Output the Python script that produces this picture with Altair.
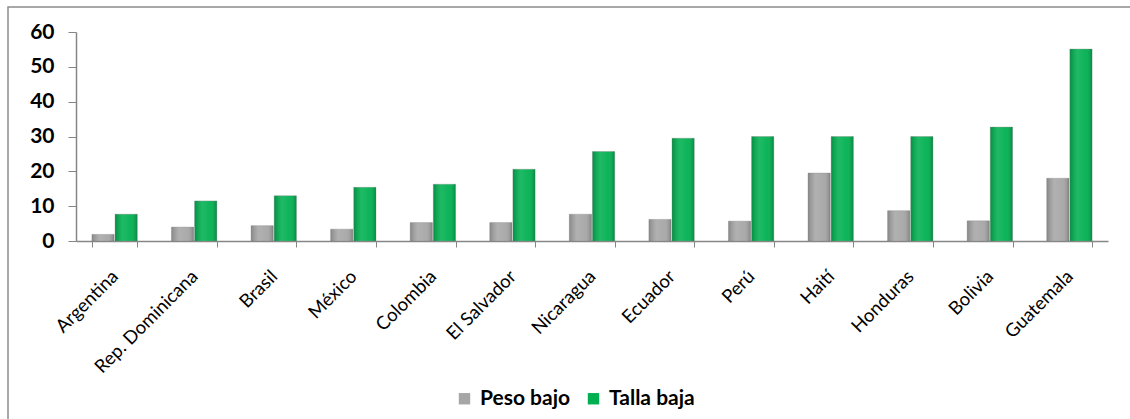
import altair as alt
import pandas as pd

countries = ["Argentina", "Rep. Dominicana", "Brasil", "México", "Colombia",
             "El Salvador", "Nicaragua", "Ecuador", "Perú", "Haití",
             "Honduras", "Bolivia", "Guatemala"]
peso_bajo = [1.9, 4.0, 4.4, 3.4, 5.3, 5.3, 7.7, 6.2, 5.7, 19.5, 8.7, 5.8, 18.0]
talla_baja = [7.7, 11.5, 13.0, 15.4, 16.3, 20.6, 25.7, 29.5, 30.0, 30.0, 30.0, 32.7, 55.1]
series = ["Peso bajo", "Talla baja"]
colors = ["#a6a6a6", "#00b050"]

rows = []
for i, c in enumerate(countries):
    rows.append({"pais": c, "serie": series[0], "valor": peso_bajo[i]})
    rows.append({"pais": c, "serie": series[1], "valor": talla_baja[i]})
df = pd.DataFrame(rows)

FONT = "Lato"
W, H = 1032, 209
PL, PT = 76, 32

x_enc = alt.X("pais:N", sort=countries, title=None,
              scale=alt.Scale(paddingInner=0.43),
              axis=alt.Axis(labelAngle=-45, labelFontSize=18.5, labelFont=FONT,
                            labelColor="#000000", tickBand="extent", tickSize=6,
                            tickColor="#868686", domainColor="#868686",
                            domainWidth=1.5, labelPadding=26, labelAlign="right",
                            labelBaseline="middle", labelOverlap=False,
                            labelLimit=0))
y_enc = alt.Y("valor:Q", title=None,
              scale=alt.Scale(domain=[0, 60], nice=False),
              axis=alt.Axis(values=[0, 10, 20, 30, 40, 50, 60], grid=False,
                            labelOverlap=False, tickCount=7,
                            labelFontSize=21, labelFont=FONT, labelFontWeight="bold",
                            labelColor="#000000", tickSize=8, tickColor="#868686",
                            domainColor="#868686", domainWidth=1.5, labelPadding=14))
xoff = alt.XOffset("serie:N", sort=series, scale=alt.Scale(paddingInner=0.04))

base = alt.Chart(df)

bars = base.mark_bar(stroke="#8a8a8a", strokeWidth=0.6, strokeOpacity=0.6).encode(
    x=x_enc, y=y_enc, xOffset=xoff,
    color=alt.Color("serie:N", sort=series,
                    scale=alt.Scale(domain=series, range=colors),
                    legend=alt.Legend(title=None, orient="none", direction="horizontal",
                                      legendX=378, legendY=356, symbolType="square",
                                      symbolSize=130, symbolStrokeWidth=0,
                                      labelFont=FONT, labelFontSize=21,
                                      labelFontWeight="bold", labelColor="#000000",
                                      columnPadding=12, labelOffset=5)),
)

shade = base.mark_bar(
    fill=alt.Gradient(
        gradient="linear", x1=0, x2=1, y1=0, y2=0,
        stops=[alt.GradientStop(color="rgba(0,0,0,0.18)", offset=0),
               alt.GradientStop(color="rgba(255,255,255,0.12)", offset=0.35),
               alt.GradientStop(color="rgba(255,255,255,0.05)", offset=0.7),
               alt.GradientStop(color="rgba(0,0,0,0.22)", offset=1)])
).encode(x=x_enc, y=y_enc, xOffset=xoff)

frame = alt.Chart(pd.DataFrame({"a": [0]})).mark_rect(
    fill="transparent", stroke="#8c8c8c", strokeWidth=1.5
).encode(x=alt.value(8 - PL), x2=alt.value(1140 - PL),
         y=alt.value(7 - PT), y2=alt.value(430 - PT))

chart = alt.layer(bars, shade, frame).properties(
    width=W, height=H,
    background="#ffffff",
    autosize=alt.AutoSizeParams(type="none"),
    padding={"left": PL, "top": PT, "right": 1130 - PL - W, "bottom": 419 - PT - H},
).configure_view(stroke="transparent", strokeWidth=0)

chart.save("out.html", embed_options={"renderer": "svg", "actions": False})
